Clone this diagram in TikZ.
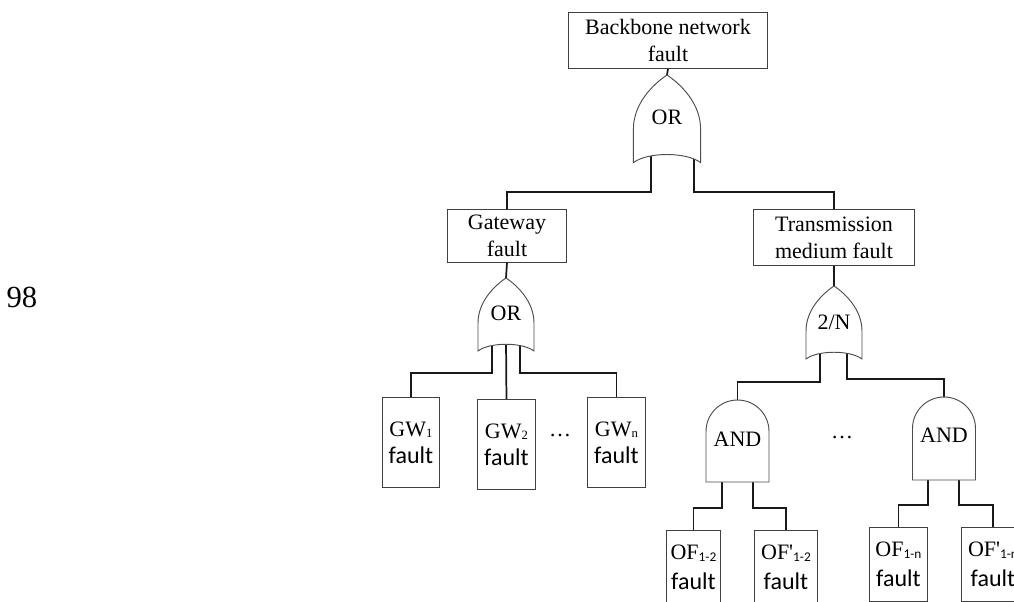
\documentclass[tikz,border=0pt]{standalone}
\usepackage{fontspec}
\setmainfont{Liberation Serif}
\newfontfamily\calib{Carlito}
% index set low and small after a name (serif and sans variants)
\newcommand\lowsr[1]{\raisebox{-1pt}{\fontsize{9.5}{9.5}\selectfont #1}}
\newcommand\lowss[1]{\raisebox{-1pt}{\calib\fontsize{10}{10}\selectfont #1}}
\newcommand\flt{{\calib\fontsize{18}{20}\selectfont fault}}
\tikzset{
  x=0.75pt, y=-0.75pt,
  box/.style={draw=black!75, line width=0.7pt, anchor=north west, inner sep=0pt,
    align=center, font=\fontsize{16.5}{20.25}\selectfont},
  wire/.style={draw=black!90, line width=1.3pt},
  gateline/.style={draw=black!70, line width=0.7pt, fill=white},
  gatelabel/.style={font=\fontsize{16.5}{20}\selectfont, inner sep=0pt},
  orgate/.pic={
    \path[gateline] (0,0) .. controls (-12,8) and (-28,24) .. (-28,45)
      -- (-28,73) .. controls (-16,64) and (16,64) .. (28,73)
      -- (28,45) .. controls (28,24) and (12,8) .. (0,0) -- cycle;
  },
  andgate/.pic={
    \path[gateline] (-31.5,#1) -- (-31.5,31.5)
      .. controls (-31.5,14) and (-17.4,0) .. (0,0)
      .. controls (17.4,0) and (31.5,14) .. (31.5,31.5)
      -- (31.5,#1) -- cycle;
  },
}
\begin{document}
\begin{tikzpicture}
\useasboundingbox (0,0) rectangle (1014,601);
\clip (0,0) rectangle (1014,601);

% page number at the left
\node[font=\fontsize{23}{23}\selectfont, inner sep=0pt] (pg) at (22,297) {98};

% event boxes
\node[box, minimum width=149.25pt, minimum height=42pt] (top) at (568,12) {Backbone network\\fault};
\node[box, minimum width=89.25pt, minimum height=39.75pt] (gw) at (447,209) {Gateway\\fault};
\node[box, minimum width=120.75pt, minimum height=42pt] (tm) at (753,209) {Transmission\\medium fault};

\node[box, minimum width=42.75pt, minimum height=67.5pt] (gw1) at (382,397) {GW\lowsr{1}\\\flt};
\node[box, minimum width=43.5pt, minimum height=67.5pt] (gw2) at (477,399) {GW\lowsr{2}\\\flt};
\node[box, minimum width=43.5pt, minimum height=67.5pt] (gwn) at (587,397) {GW\lowsr{n}\\\flt};

\node[box, minimum width=40.5pt, minimum height=55.5pt] (of12) at (666,530) {OF\lowss{1-2}\\[2pt]\flt};
\node[box, minimum width=47.25pt, minimum height=55.5pt] (ofp12) at (754,530) {OF\textquotesingle\lowss{1-2}\\[2pt]\flt};
\node[box, minimum width=43.5pt, minimum height=55.5pt] (of1n) at (869,527) {OF\lowss{1-n}\\[2pt]\flt};
\node[box, minimum width=47.25pt, minimum height=55.5pt] (ofp1n) at (961,527) {OF\textquotesingle\lowss{1-n}\\[2pt]\flt};

% gate inputs and outputs
\coordinate (g0a) at (667,75);
\coordinate (g0l) at (651,150);
\coordinate (g0r) at (694,150);
\coordinate (g1a) at (506,278);
\coordinate (g1l) at (492,340);
\coordinate (g1m) at (506,340);
\coordinate (g1r) at (520,340);
\coordinate (g2a) at (834,286);
\coordinate (g2l) at (820,350);
\coordinate (g2r) at (847,350);
\coordinate (a1t) at (737.5,400);
\coordinate (a1l) at (722,470);
\coordinate (a1r) at (753,470);
\coordinate (a2t) at (944,397);
\coordinate (a2l) at (928,470);
\coordinate (a2r) at (959,470);

% connectors
\draw[wire] (top.south) -- (g0a);
\draw[wire] (g0l) -- (g0l |- 0,192) -| (gw.north);
\draw[wire] (g0r) -- (g0r |- 0,192) -| (tm.north);

\draw[wire] (gw.south) -- (g1a);
\draw[wire] (g1l) -- (g1l |- 0,373) -| (gw1.north);
\draw[wire] (g1m) -- (gw2.north);
\draw[wire] (g1r) -- (g1r |- 0,373) -| (gwn.north);

\draw[wire] (tm.south) -- (g2a);
\draw[wire] (g2l) -- (g2l |- 0,382) -| (a1t);
\draw[wire] (g2r) -- (g2r |- 0,379) -| (a2t);

\draw[wire] (a1l) -- (a1l |- 0,508) -| (of12.north);
\draw[wire] (a1r) -- (a1r |- 0,508) -| (ofp12.north);
\draw[wire] (a2l) -- (a2l |- 0,505) -| (of1n.north);
\draw[wire] (a2r) -- (a2r |- 0,505) -| (ofp1n.north);

% gates
\pic[scale=1.2] at (g0a) {orgate};
\pic at (g1a) {orgate};
\pic at (g2a) {orgate};
\pic at (a1t) {andgate=82};
\pic at (a2t) {andgate=83};

\node[gatelabel] (l0) at (667,117) {OR};
\node[gatelabel] (l1) at (506,313) {OR};
\node[gatelabel] (l2) at (834,322) {2/N};
\node[gatelabel] (l3) at (737.5,439) {AND};
\node[gatelabel] (l4) at (944,435) {AND};

% omitted branches
\node[gatelabel] (d1) at (560,436) {\dots};
\node[gatelabel] (d2) at (842,438) {\dots};
\end{tikzpicture}
\end{document}
